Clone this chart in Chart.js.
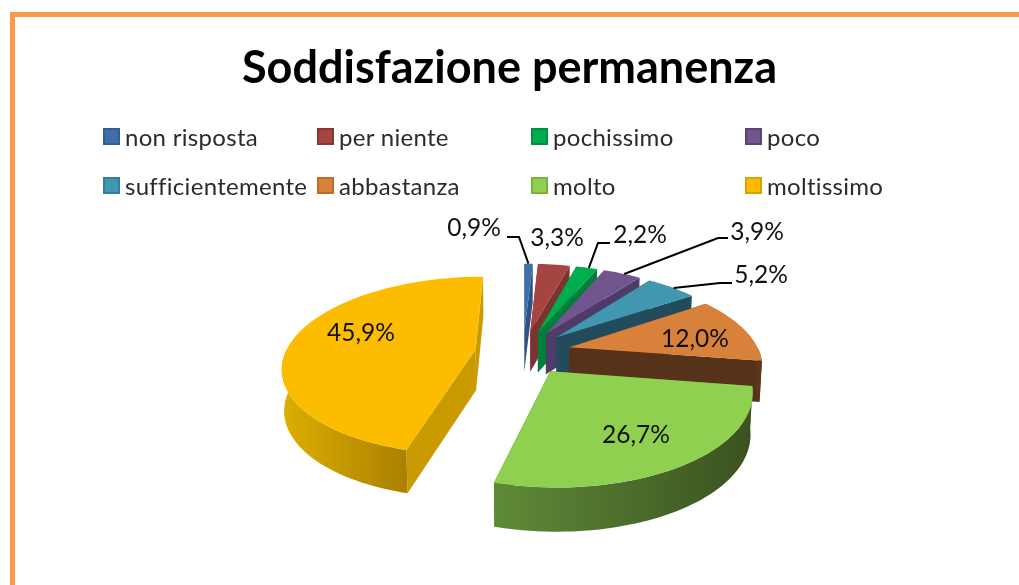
<!DOCTYPE html>
<html>
<head>
<meta charset="utf-8">
<title>Soddisfazione permanenza</title>
<script src="https://cdn.jsdelivr.net/npm/chart.js@4"></script>
<style>
    html, body { margin: 0; padding: 0; background: #fff; overflow: hidden; }
    #wrap { position: relative; width: 1019px; height: 585px; overflow: hidden; }
    #frame { position: absolute; left: 10px; top: 12px; width: 1100px; height: 700px; border-left: 5px solid #fb9a4a; border-top: 5px solid #fb9a4a; }
    #myChart { position: absolute; left: 0; top: 0; }
    .legend-item { position: absolute; font: 24px Lato, sans-serif; letter-spacing: 0.3px; color: #2b2b2b; line-height: 28px; white-space: nowrap; }
    .legend-box { position: absolute; left: -22px; top: 5px; width: 13px; height: 13px; border: 2px solid; }
</style>
</head>
<body>
<div id="wrap">
    <div id="frame"></div>
    <canvas id="myChart" width="1019" height="585"></canvas>
</div>
<script>
const chartTitle = 'Soddisfazione permanenza';
const categories = ['non risposta', 'per niente', 'pochissimo', 'poco', 'sufficientemente', 'abbastanza', 'molto', 'moltissimo'];
const percentages = [0.9, 3.3, 2.2, 3.9, 5.2, 12.0, 26.7, 45.9];

const topColors = ['#3f6fa9', '#a64442', '#00ad4e', '#70558f', '#4197b0', '#d8813b', '#8fd050', '#fcbd00'];
const sideColors = ['#2f5380', '#7b3432', '#007f3a', '#4f3b68', '#224b5c', '#56321a', '#55782f', '#c99b00'];
const wallLight = ['#2f5380', '#7b3432', '#007f3a', '#4f3b68', '#224b5c', '#5f3619', '#5f8b38', '#dcae00'];
const wallDark = ['#2f5380', '#7b3432', '#007f3a', '#4f3b68', '#224b5c', '#5f3619', '#3a5220', '#aa8000'];
const boxEdges = ['#2f5f95', '#8a3533', '#00913f', '#5b4378', '#2f8098', '#c06b28', '#79b13f', '#d9a300'];

// hand placed labels, like in the original chart: text centre, then elbow and end of the leader
const labelSpots = [
    { x: 474, y: 228, elbow: [519, 237], end: [507, 237] },
    { x: 557, y: 238 },
    { x: 640, y: 235, elbow: [598, 243], end: [610, 243] },
    { x: 757, y: 232, elbow: [718, 238], end: [728, 238] },
    { x: 761, y: 275, elbow: [720, 283], end: [732, 283] },
    { x: 695, y: 339 },
    { x: 636, y: 435 },
    { x: 361, y: 333 }
];

// fake 3D view of the pie plane
const view = { cx: 523, cy: 352, tilt: 0.457, distance: 1030, depth: 41 };

function project(u, v, z) {
    const s = view.distance / (view.distance + v);
    return {
        x: view.cx + u * s * (z ? 0.99 : 1),
        y: view.cy - v * view.tilt * s + (z ? view.depth * Math.pow(s, 0.3) : 0)
    };
}

function slicePoints(el, z) {
    const mid = (el.startAngle + el.endAngle) / 2;
    const off = el.options.offset;
    const ox = Math.cos(mid) * off, oy = Math.sin(mid) * off;
    const steps = Math.max(2, Math.ceil((el.endAngle - el.startAngle) / 0.03));
    const arc = [];
    const front = [];
    for (let i = 0; i <= steps; i++) {
        const a = el.startAngle + (el.endAngle - el.startAngle) * i / steps;
        const p = project(ox + Math.cos(a) * el.outerRadius, -(oy + Math.sin(a) * el.outerRadius), z);
        arc.push(p);
        // only the part of the rim that faces the viewer gets a wall
        if (Math.sin(a) >= 0) front.push(p);
    }
    return { apex: project(ox, -oy, z), arc: arc, front: front };
}

function fillPoly(ctx, pts, fill) {
    ctx.beginPath();
    pts.forEach((p, i) => i ? ctx.lineTo(p.x, p.y) : ctx.moveTo(p.x, p.y));
    ctx.closePath();
    ctx.fillStyle = fill;
    ctx.fill();
}

// Pie drawn with depth, the arcs still come from the library layout
class Pie3dController extends Chart.PieController {
    draw() {
        const ctx = this.chart.ctx;
        this.getMeta().data.forEach((el, i) => {
            const top = slicePoints(el, false);
            const low = slicePoints(el, true);
            const last = top.arc.length - 1;

            fillPoly(ctx, [top.apex, low.apex, low.arc[0], top.arc[0]], sideColors[i]);
            fillPoly(ctx, [top.apex, low.apex, low.arc[last], top.arc[last]], sideColors[i]);

            if (low.front.length > 1) {
                const xs = low.front.map(p => p.x);
                const grad = ctx.createLinearGradient(Math.min(...xs), 0, Math.max(...xs), 0);
                grad.addColorStop(0, wallLight[i]);
                grad.addColorStop(1, wallDark[i]);
                fillPoly(ctx, top.front.concat(low.front.slice().reverse()), grad);
            }

            fillPoly(ctx, [top.apex].concat(top.arc), topColors[i]);
        });
    }
}
Pie3dController.id = 'pie3d';
Chart.register(Pie3dController);

const sliceLabels = {
    id: 'sliceLabels',
    afterDatasetsDraw(chart) {
        const ctx = chart.ctx;
        const arcs = chart.getDatasetMeta(0).data;
        ctx.save();
        ctx.font = '24.5px Lato, sans-serif';
        ctx.textAlign = 'center';
        ctx.textBaseline = 'middle';
        ctx.strokeStyle = '#000';
        ctx.lineWidth = 2;
        percentages.forEach((value, i) => {
            const spot = labelSpots[i];
            if (spot.elbow) {
                const top = slicePoints(arcs[i], false);
                const start = top.arc[Math.floor(top.arc.length / 2)];
                ctx.beginPath();
                ctx.moveTo(start.x, start.y);
                ctx.lineTo(spot.elbow[0], spot.elbow[1]);
                ctx.lineTo(spot.end[0], spot.end[1]);
                ctx.stroke();
            }
            ctx.fillStyle = '#111';
            ctx.fillText(value.toFixed(1).replace('.', ',') + '%', spot.x, spot.y);
        });
        ctx.restore();
    }
};

new Chart(document.getElementById('myChart').getContext('2d'), {
    type: 'pie3d',
    data: {
        labels: categories,
        datasets: [{
            data: percentages,
            backgroundColor: topColors,
            radius: 190,
            offset: 48,
            borderWidth: 0,
            clip: false
        }]
    },
    options: {
        responsive: false,
        animation: false,
        events: [],
        plugins: {
            legend: { display: false },
            tooltip: { enabled: false },
            title: {
                display: true,
                text: chartTitle,
                color: '#000',
                font: { family: 'Lato, sans-serif', size: 45, weight: 'bold' },
                padding: { top: 41, bottom: 30 }
            }
        }
    },
    plugins: [sliceLabels]
});

// Legend in a fixed 4 column grid, the built in one can't do that
const legendWrap = document.getElementById('wrap');
categories.forEach((name, i) => {
    const item = document.createElement('div');
    item.className = 'legend-item';
    item.style.left = (125 + (i % 4) * 214) + 'px';
    item.style.top = (123 + Math.floor(i / 4) * 49) + 'px';
    item.textContent = name;
    const box = document.createElement('span');
    box.className = 'legend-box';
    box.style.background = topColors[i];
    box.style.borderColor = boxEdges[i];
    item.appendChild(box);
    legendWrap.appendChild(item);
});
</script>
</body>
</html>
